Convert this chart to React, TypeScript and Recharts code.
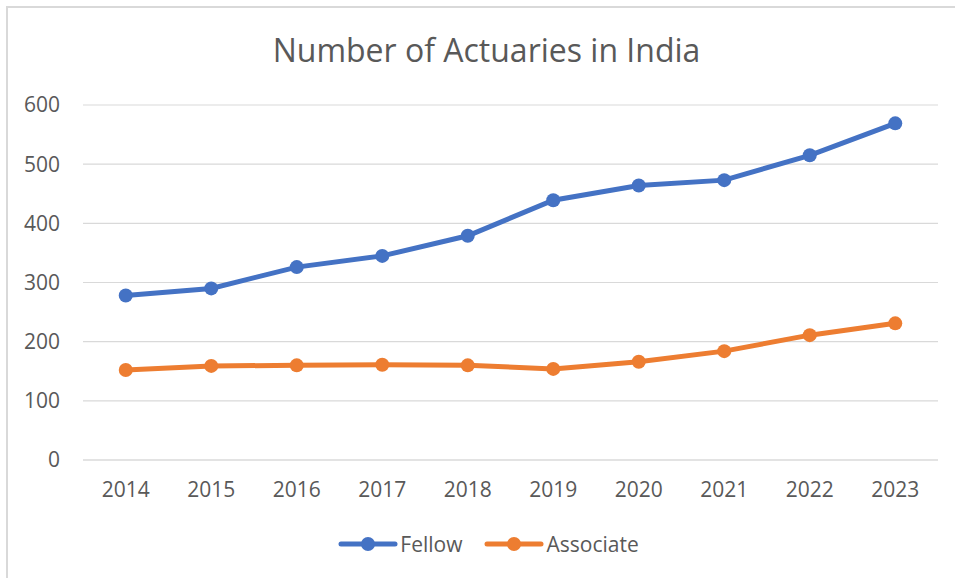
import { CartesianGrid, Legend, Line, LineChart, XAxis, YAxis } from "recharts";

const years = ["2014", "2015", "2016", "2017", "2018", "2019", "2020", "2021", "2022", "2023"];
const fellow = [278, 290, 326, 345, 379, 439, 464, 473, 515, 569];
const associate = [152, 159, 160, 161, 160, 154, 166, 184, 211, 231];
const yTicks = [0, 100, 200, 300, 400, 500, 600];

const BLUE = "#4472C4";
const ORANGE = "#ED7D31";
const TEXT = "#595959";
const GRID = "#D9D9D9";
const FONT = "'Open Sans', sans-serif";

const data = years.map((year, i) => ({
  year,
  fellow: fellow[i],
  associate: associate[i],
}));

function LegendItem({ color, label }: { color: string; label: string }) {
  return (
    <div style={{ display: "flex", alignItems: "center" }}>
      <svg width={60} height={16}>
        <line x1={3} y1={8} x2={57} y2={8} stroke={color} strokeWidth={5} strokeLinecap="round" />
        <circle cx={30} cy={8} r={7} fill={color} />
      </svg>
      <span style={{ marginLeft: 2, fontSize: 21, color: TEXT, fontFamily: FONT }}>{label}</span>
    </div>
  );
}

function ChartLegend() {
  return (
    <div style={{ display: "flex", justifyContent: "center", gap: 22, height: 40, alignItems: "center", paddingLeft: 22 }}>
      <LegendItem color={BLUE} label="Fellow" />
      <LegendItem color={ORANGE} label="Associate" />
    </div>
  );
}

export default function App() {
  return (
    <div style={{ position: "absolute", left: 0, top: 0, width: 955, height: 578, background: "#fff", overflow: "hidden" }}>
      <div
        style={{
          position: "absolute",
          left: 6,
          top: 6,
          width: 960,
          height: 580,
          borderLeft: `2px solid ${GRID}`,
          borderTop: `2px solid ${GRID}`,
        }}
      />
      <div
        style={{
          position: "absolute",
          left: 0,
          top: 28,
          width: 973,
          textAlign: "center",
          fontFamily: FONT,
          fontSize: 32,
          color: TEXT,
          whiteSpace: "nowrap",
        }}
      >
        Number of Actuaries in India
      </div>
      <LineChart
        width={955}
        height={578}
        data={data}
        margin={{ top: 105, right: 17, left: 0, bottom: 48 }}
        style={{ position: "absolute", left: 0, top: 0 }}
      >
        <CartesianGrid vertical={false} stroke={GRID} strokeWidth={1.2} />
        <XAxis
          dataKey="year"
          padding={{ left: 42.75, right: 42.75 }}
          axisLine={{ stroke: GRID, strokeWidth: 1.2 }}
          tickLine={false}
          tickSize={0}
          tickMargin={22}
          tick={{ fill: TEXT, fontSize: 21, fontFamily: FONT }}
        />
        <YAxis
          width={83}
          domain={[0, 600]}
          ticks={yTicks}
          axisLine={false}
          tickLine={false}
          tickSize={0}
          tickMargin={23}
          tick={{ fill: TEXT, fontSize: 21, fontFamily: FONT }}
        />
        <Legend
          verticalAlign="bottom"
          content={() => <ChartLegend />}
          wrapperStyle={{ top: 524, left: 0, width: 955, height: 40, bottom: "auto" }}
        />
        <Line
          type="linear"
          dataKey="fellow"
          name="Fellow"
          stroke={BLUE}
          strokeWidth={5}
          dot={{ r: 7, fill: BLUE, stroke: BLUE, strokeWidth: 0 }}
          activeDot={false}
          isAnimationActive={false}
        />
        <Line
          type="linear"
          dataKey="associate"
          name="Associate"
          stroke={ORANGE}
          strokeWidth={5}
          dot={{ r: 7, fill: ORANGE, stroke: ORANGE, strokeWidth: 0 }}
          activeDot={false}
          isAnimationActive={false}
        />
      </LineChart>
    </div>
  );
}
